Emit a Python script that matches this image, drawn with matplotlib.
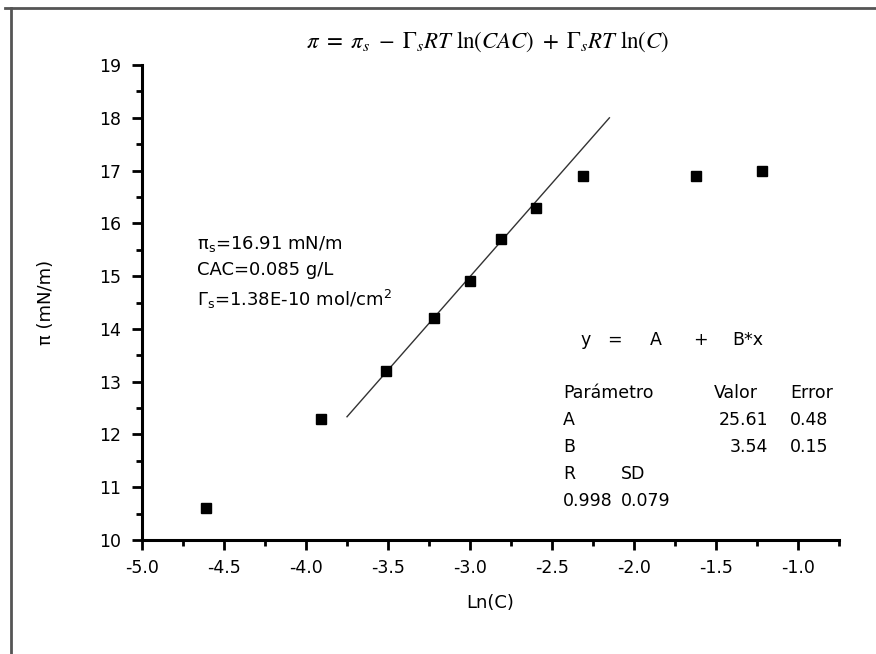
#!/usr/bin/env python3
"""Surface pressure vs ln(C) with linear fit (Gibbs adsorption)."""

import numpy as np
import matplotlib
matplotlib.use('Agg')
import matplotlib.pyplot as plt
from matplotlib.lines import Line2D
from matplotlib.ticker import MultipleLocator

plt.rcParams['font.family'] = ['DejaVu Sans']
plt.rcParams['axes.unicode_minus'] = False
plt.rcParams['mathtext.fontset'] = 'stix'

# data
ln_c = [-4.61, -3.91, -3.51, -3.22, -3.00, -2.81, -2.60, -2.31, -1.62, -1.22]
pi_vals = [10.6, 12.3, 13.2, 14.2, 14.9, 15.7, 16.3, 16.9, 16.9, 17.0]

# linear fit y = A + B*x drawn over the fitted range
fit_A = 25.61
fit_B = 3.54
fit_range = [-3.75, -2.15]

W, H = 876, 654
fig = plt.figure(figsize=(W / 100, H / 100), dpi=100)

def px(x, y):
    return x / W, 1 - y / H

# axes placement from pixel positions
x0, x1 = 142, 839
y0, y1 = 540, 65
ax = fig.add_axes([x0 / W, 1 - y0 / H, (x1 - x0) / W, (y0 - y1) / H])

ax.plot(ln_c, pi_vals, 's', color='black', markersize=7, zorder=3)
xf = np.linspace(fit_range[0], fit_range[1], 50)
ax.plot(xf, fit_A + fit_B * xf, color='#333333', linewidth=1.0, zorder=2)

ax.set_xlim(-5.0, -0.75)
ax.set_ylim(10, 19)
ax.xaxis.set_minor_locator(MultipleLocator(0.25))
ax.yaxis.set_major_locator(MultipleLocator(1))
ax.yaxis.set_minor_locator(MultipleLocator(0.5))
xt = np.arange(-5.0, -0.9, 0.5)
ax.set_xticks(xt)
ax.set_xticklabels([f'{v:.1f}' for v in xt])

for side in ['top', 'right']:
    ax.spines[side].set_visible(False)
for side in ['left', 'bottom']:
    ax.spines[side].set_linewidth(2.2)
ax.tick_params(which='major', direction='out', length=7, width=2, labelsize=12.5)
ax.tick_params(axis='x', which='major', pad=7)
ax.tick_params(axis='y', which='major', pad=8)
ax.tick_params(which='minor', direction='out', length=4, width=2)

ax.set_xlabel('Ln(C)', fontsize=13, labelpad=12)
ax.set_ylabel('π (mN/m)', fontsize=13, labelpad=32)

# title equation
fig.text(*px(488, 42), r'$\pi\ =\ \pi_s\ -\ \Gamma_s RT\ \ln(CAC)\ +\ \Gamma_s RT\ \ln(C)$',
         fontsize=16.5, ha='center', va='center')

# left parameter block
tfs = 13
fig.text(*px(197, 244), r'$\mathregular{\pi_s}$=16.91 mN/m', fontsize=tfs, ha='left', va='center',
         math_fontfamily='dejavusans')
fig.text(*px(197, 270), 'CAC=0.085 g/L', fontsize=tfs, ha='left', va='center')
fig.text(*px(197, 299), r'$\mathregular{\Gamma_s}$=1.38E-10 mol/cm$\mathregular{^2}$', fontsize=tfs,
         ha='left', va='center', math_fontfamily='dejavusans')

# fit report block
fs = 12.5
for xx, s in [(580, 'y'), (607, '='), (650, 'A'), (693, '+'), (732, 'B*x')]:
    fig.text(*px(xx, 340), s, fontsize=fs, ha='left', va='center')
fig.text(*px(563, 393), 'Parámetro', fontsize=fs, ha='left', va='center')
fig.text(*px(714, 393), 'Valor', fontsize=fs, ha='left', va='center')
fig.text(*px(790, 393), 'Error', fontsize=fs, ha='left', va='center')
fig.text(*px(563, 420), 'A', fontsize=fs, ha='left', va='center')
fig.text(*px(768, 420), f'{fit_A:.2f}', fontsize=fs, ha='right', va='center')
fig.text(*px(790, 420), '0.48', fontsize=fs, ha='left', va='center')
fig.text(*px(563, 447), 'B', fontsize=fs, ha='left', va='center')
fig.text(*px(768, 447), f'{fit_B:.2f}', fontsize=fs, ha='right', va='center')
fig.text(*px(790, 447), '0.15', fontsize=fs, ha='left', va='center')
fig.text(*px(563, 474), 'R', fontsize=fs, ha='left', va='center')
fig.text(*px(621, 474), 'SD', fontsize=fs, ha='left', va='center')
fig.text(*px(563, 501), '0.998', fontsize=fs, ha='left', va='center')
fig.text(*px(621, 501), '0.079', fontsize=fs, ha='left', va='center')

# scanned page frame: top and left edges
fig.add_artist(Line2D([5 / W, 1], [1 - 8 / H, 1 - 8 / H], color='#555555', linewidth=2,
                      transform=fig.transFigure))
fig.add_artist(Line2D([11 / W, 11 / W], [0, 1 - 8 / H], color='#555555', linewidth=2,
                      transform=fig.transFigure))

fig.savefig('out.png', dpi=100)
